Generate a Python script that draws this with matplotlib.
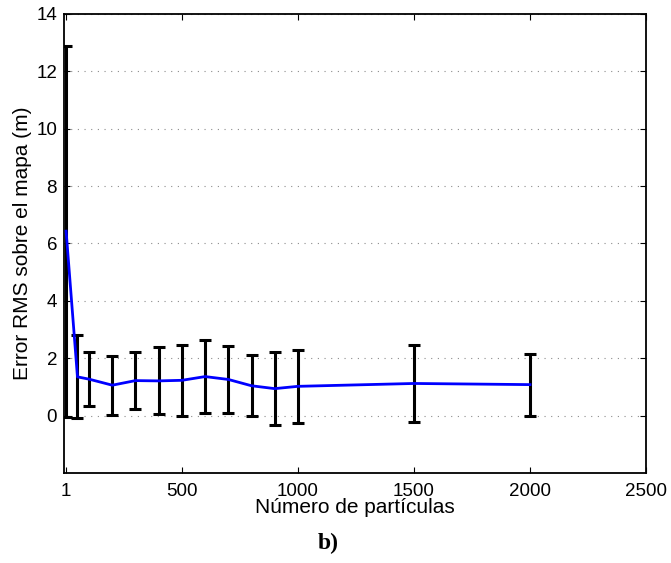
import numpy as np
import matplotlib.pyplot as plt

plt.rcParams['font.family'] = ['Liberation Sans', 'DejaVu Sans']

# number of particles, RMS error and its spread
particulas = [1, 50, 100, 200, 300, 400, 500, 600, 700, 800, 900, 1000, 1500, 2000]
error_rms = [6.43, 1.35, 1.27, 1.06, 1.22, 1.21, 1.23, 1.36, 1.26, 1.04, 0.94, 1.02, 1.12, 1.08]
desv = [6.47, 1.45, 0.95, 1.03, 0.98, 1.17, 1.23, 1.27, 1.18, 1.06, 1.27, 1.28, 1.33, 1.08]

xticks = [1, 500, 1000, 1500, 2000, 2500]
yticks = [0, 2, 4, 6, 8, 10, 12, 14]

fig = plt.figure(figsize=(6.71, 5.63), dpi=100)
ax = fig.add_axes([0.0954, 0.1599, 0.8674, 0.8153])

ax.errorbar(particulas, error_rms, yerr=desv, fmt='none', ecolor='black',
            elinewidth=2.2, capsize=4.5, capthick=2.2, zorder=2)
ax.plot(particulas, error_rms, color='blue', lw=2, zorder=3)

ax.set_xlim(-8, 2500)
ax.set_ylim(-2, 14)
ax.set_xticks(xticks)
ax.set_xticklabels([str(t) for t in xticks])
ax.set_yticks(yticks)
ax.yaxis.grid(True, linestyle=(0, (1, 5)), color='0.55', lw=0.8)
ax.tick_params(direction='in', top=True, right=True, length=4, labelsize=13.5)
ax.tick_params(axis='x', pad=7)
ax.tick_params(axis='y', pad=5)
for s in ax.spines.values():
    s.set_linewidth(1.3)

ax.set_xlabel('Número de partículas', fontsize=15, labelpad=-1)
ax.set_ylabel('Error RMS sobre el mapa (m)', fontsize=15, labelpad=3)

fig.text(328/671, 1-543/563, 'b)', family='Liberation Serif', weight='bold',
         fontsize=17, ha='center', va='center')

fig.savefig('out.png', dpi=100)
